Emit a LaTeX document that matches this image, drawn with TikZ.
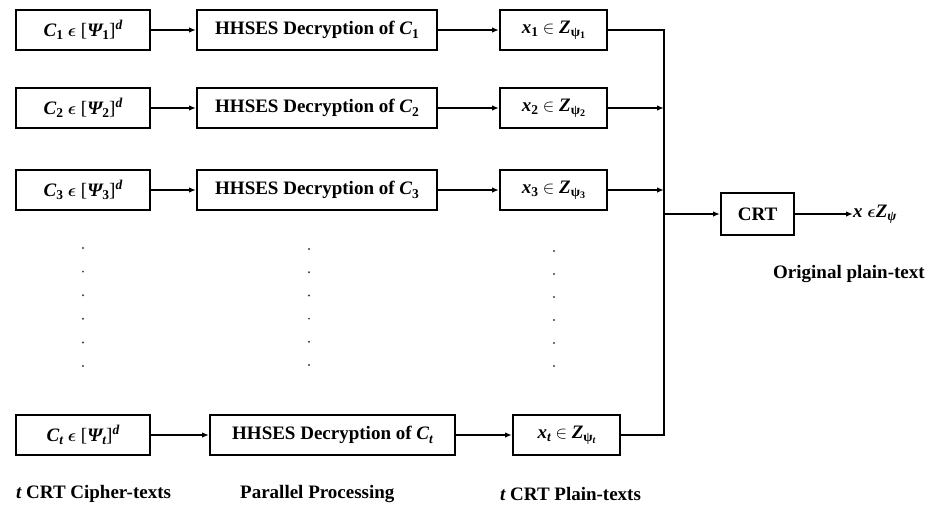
\documentclass[tikz,border=0pt]{standalone}
\usepackage{amsmath}
\usepackage{fontspec}
\setmainfont{Liberation Serif}
\usetikzlibrary{arrows.meta}
\newcommand{\bi}[1]{{\bfseries\itshape #1}}
% lowered / raised indices set in text fonts
\newcommand{\lowidx}[1]{\raisebox{-0.4ex}{\fontsize{13.5}{14}\selectfont #1}}
\newcommand{\tinyidx}[1]{\raisebox{-0.35ex}{\fontsize{10}{10}\selectfont #1}}
\newcommand{\highidx}[1]{\raisebox{0.75ex}{\fontsize{13.5}{14}\selectfont #1}}
\newcommand{\cipher}[1]{\bi{C}\lowidx{\bfseries #1}\ $\boldsymbol{\epsilon}$\ {\mdseries[}\bi{Ψ}\lowidx{\bfseries #1}{\mdseries]}\highidx{\bi{d}}}
\newcommand{\plain}[2]{\bi{x}\lowidx{\bfseries #1}\ $\in$\ \bi{Z}\lowidx{ψ\tinyidx{\bfseries #2}}}
\begin{document}
\begin{tikzpicture}[x=1pt,y=-1pt,
  box/.style={draw,line width=2pt,minimum height=40pt,inner sep=0pt,font=\fontsize{19}{21}\selectfont\bfseries},
  conn/.style={line width=1.6pt,-{Latex[length=7pt,width=5.5pt]}},
  wire/.style={line width=1.6pt},
  lbl/.style={font=\fontsize{19}{21}\selectfont\bfseries,inner sep=0pt},
  dotmark/.style={circle,fill=black!75,inner sep=0pt,minimum size=2.2pt}]
\useasboundingbox (0,0) rectangle (936,509);
% row 1
\node[box,minimum width=134pt] (c1) at (83,30) {\cipher{1}};
\node[box,minimum width=240pt] (h1) at (317,30) {HHSES Decryption of \bi{C}\lowidx{1}};
\node[box,minimum width=107pt] (p1) at (553.5,30) {\plain{1}{1}};
% row 2
\node[box,minimum width=134pt] (c2) at (83,108) {\cipher{2}};
\node[box,minimum width=240pt] (h2) at (317,108) {HHSES Decryption of \bi{C}\lowidx{2}};
\node[box,minimum width=107pt] (p2) at (553.5,108) {\plain{2}{2}};
% row 3
\node[box,minimum width=134pt] (c3) at (83,190) {\cipher{3}};
\node[box,minimum width=240pt] (h3) at (317,190) {HHSES Decryption of \bi{C}\lowidx{3}};
\node[box,minimum width=107pt] (p3) at (553.5,190) {\plain{3}{3}};
% row t
\node[box,minimum width=134pt] (ct) at (83,435) {\cipher{\itshape t}};
\node[box,minimum width=245pt] (ht) at (332.5,435) {HHSES Decryption of \bi{C}\lowidx{\itshape t}};
\node[box,minimum width=107pt] (pt) at (566.5,435) {\plain{\itshape t}{\itshape t}};
% combiner
\node[box,minimum width=73pt,minimum height=42pt] (crt) at (757.5,214) {CRT};
\node[lbl,anchor=west] (res) at (853,214) {\bi{x} $\boldsymbol{\epsilon}$\bi{Z}\lowidx{\bi{ψ}}};
\node[lbl,anchor=west] (orig) at (773,274) {Original plain-text};
% column captions
\node[lbl,anchor=west] (cap1) at (16,494) {\bi{t} CRT Cipher-texts};
\node[lbl,anchor=west] (cap2) at (240,494) {Parallel Processing};
\node[lbl,anchor=west] (cap3) at (500,494) {\bi{t} CRT Plain-texts};
% bus
\coordinate (btop) at (664,30);
\coordinate (bbot) at (664,435);
\coordinate (bmid) at (664,214);
\foreach \r in {1,2,3,t}{
  \draw[conn] (c\r) -- (h\r);
  \draw[conn] (h\r) -- (p\r);
}
\draw[wire] (p1.east) -- (btop) -- (bbot) -- (pt.east);
\draw[conn] (p2.east) -- (p2.east -| btop);
\draw[conn] (p3.east) -- (p3.east -| btop);
\draw[conn] (bmid) -- (crt);
\draw[conn] (crt.east) -- (crt.east -| res.west);
% ellipsis dots
\foreach \k in {0,...,5}{
  \node[dotmark] (da\k) at (83,248+23.6*\k) {};
  \node[dotmark] (db\k) at (309,249+23.2*\k) {};
  \node[dotmark] (dc\k) at (554,251+23*\k) {};
}
\end{tikzpicture}
\end{document}
